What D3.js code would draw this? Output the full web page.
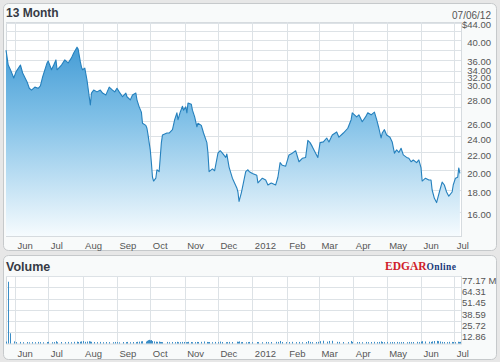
<!DOCTYPE html>
<html>
<head>
<meta charset="utf-8">
<script src="https://cdn.jsdelivr.net/npm/d3@7"></script>
<style>
  html, body { margin: 0; padding: 0; background: #e7e7e7; }
  svg { display: block; font-family: Arial, "Liberation Sans", sans-serif; }
</style>
</head>
<body>
<svg id="chart" width="500" height="362"></svg>
<script>
// sample dates (roughly every 2-3 days)
const dates = [
  "2011-05-24","2011-05-26","2011-05-28","2011-05-31","2011-06-02","2011-06-06","2011-06-08","2011-06-12","2011-06-14","2011-06-16",
  "2011-06-19","2011-06-22","2011-06-24","2011-06-26","2011-06-30","2011-07-01","2011-07-04","2011-07-06","2011-07-08","2011-07-09",
  "2011-07-13","2011-07-16","2011-07-19","2011-07-22","2011-07-24","2011-07-27","2011-07-28","2011-07-30","2011-07-31","2011-08-01",
  "2011-08-03","2011-08-05","2011-08-07","2011-08-08","2011-08-09","2011-08-11","2011-08-14","2011-08-17","2011-08-19","2011-08-22",
  "2011-08-25","2011-08-28","2011-08-30","2011-09-01","2011-09-03","2011-09-06","2011-09-09","2011-09-10","2011-09-13","2011-09-15",
  "2011-09-18","2011-09-19","2011-09-21","2011-09-23","2011-09-24","2011-09-27","2011-09-28","2011-09-29","2011-09-30","2011-10-01",
  "2011-10-02","2011-10-03","2011-10-04","2011-10-06","2011-10-07","2011-10-09","2011-10-10","2011-10-11","2011-10-12","2011-10-16",
  "2011-10-18","2011-10-21","2011-10-23","2011-10-25","2011-10-26","2011-10-28","2011-10-30","2011-10-31","2011-11-02","2011-11-03",
  "2011-11-04","2011-11-07","2011-11-08","2011-11-10","2011-11-12","2011-11-13","2011-11-16","2011-11-18","2011-11-21","2011-11-22",
  "2011-11-23","2011-11-26","2011-11-28","2011-12-01","2011-12-03","2011-12-05","2011-12-08","2011-12-09","2011-12-11","2011-12-14",
  "2011-12-18","2011-12-19","2011-12-20","2011-12-22","2011-12-23","2011-12-26","2011-12-28","2011-12-29","2012-01-01","2012-01-05",
  "2012-01-06","2012-01-10","2012-01-13","2012-01-15","2012-01-18","2012-01-22","2012-01-24","2012-01-26","2012-01-28","2012-01-31",
  "2012-02-03","2012-02-06","2012-02-09","2012-02-12","2012-02-15","2012-02-18","2012-02-20","2012-02-22","2012-02-24","2012-02-27",
  "2012-02-29","2012-03-02","2012-03-05","2012-03-08","2012-03-10","2012-03-13","2012-03-17","2012-03-19","2012-03-23","2012-03-27",
  "2012-03-30","2012-03-31","2012-04-04","2012-04-06","2012-04-09","2012-04-12","2012-04-14","2012-04-17","2012-04-20","2012-04-22",
  "2012-04-24","2012-04-26","2012-04-27","2012-04-29","2012-05-01","2012-05-04","2012-05-06","2012-05-08","2012-05-10","2012-05-12",
  "2012-05-14","2012-05-16","2012-05-19","2012-05-21","2012-05-23","2012-05-25","2012-05-28","2012-05-30","2012-06-01","2012-06-02",
  "2012-06-05","2012-06-08","2012-06-10","2012-06-11","2012-06-13","2012-06-15","2012-06-16","2012-06-18","2012-06-20","2012-06-22",
  "2012-06-24","2012-06-26","2012-06-29","2012-06-30","2012-07-02","2012-07-04","2012-07-05","2012-07-06"
];

// closing price, $
const closes = [
  37.97, 35.05, 34.17, 32.70, 33.78, 35.05, 33.58, 32.02, 30.95, 30.65,
  31.14, 30.95, 31.34, 32.90, 35.44, 35.83, 34.17, 35.05, 36.02, 34.17,
  35.05, 36.02, 35.44, 36.41, 37.39, 38.56, 38.17, 35.63, 34.66, 34.17,
  34.46, 32.31, 29.58, 28.31, 30.16, 30.65, 30.36, 30.65, 30.16, 29.87,
  31.14, 30.65, 30.36, 30.95, 30.36, 29.58, 30.16, 29.58, 29.09, 29.87,
  30.16, 29.09, 28.02, 27.24, 25.67, 25.38, 24.99, 24.11, 23.14, 22.26,
  20.79, 19.23, 18.84, 19.13, 20.01, 19.82, 21.38, 23.14, 24.11, 24.36,
  24.36, 24.80, 26.16, 27.14, 26.16, 27.24, 28.11, 27.53, 28.02, 27.14,
  28.60, 28.41, 27.53, 26.55, 25.19, 25.67, 25.38, 24.36, 23.14, 21.87,
  19.82, 20.11, 19.91, 21.87, 22.16, 21.87, 21.38, 21.77, 20.30, 19.13,
  18.16, 17.77, 16.89, 17.67, 18.16, 19.82, 20.01, 19.82, 19.62, 19.43,
  18.65, 19.13, 18.94, 18.45, 18.65, 18.45, 19.23, 20.79, 20.50, 20.40,
  21.67, 21.87, 22.16, 20.89, 21.28, 21.38, 23.43, 23.14, 22.65, 21.87,
  21.38, 23.14, 23.23, 23.72, 23.23, 24.11, 24.50, 23.82, 24.36, 24.99,
  26.16, 27.14, 26.55, 26.85, 25.87, 26.55, 27.14, 26.85, 27.24, 26.16,
  24.99, 23.72, 24.36, 24.80, 24.11, 23.82, 23.23, 21.87, 22.26, 21.96,
  22.45, 21.67, 21.38, 21.28, 20.89, 21.09, 20.79, 21.09, 20.21, 18.84,
  19.13, 18.94, 18.94, 17.96, 17.18, 16.79, 17.18, 17.96, 18.74, 18.45,
  17.77, 17.38, 17.77, 18.45, 19.13, 19.23, 20.21, 19.62
];

// volume, millions of shares
const volumes = [
  2.2, 70.6, 11.7, 2.4, 1.6, 1.8, 1.5, 1.7, 1.4, 1.6,
  1.5, 1.8, 1.6, 1.4, 1.7, 1.9, 1.5, 1.6, 2.6, 1.5,
  1.7, 1.6, 1.8, 1.5, 1.9, 2.1, 1.7, 2.0, 2.4, 2.8,
  1.9, 2.2, 2.6, 2.3, 1.9, 1.7, 1.6, 1.8, 1.5, 1.7,
  1.6, 1.5, 1.8, 1.6, 1.4, 1.7, 1.6, 1.8, 1.5, 1.7,
  1.6, 1.9, 2.1, 2.4, 2.6, 2.2, 3.1, 3.8, 4.2, 3.6,
  3.9, 2.8, 2.4, 2.1, 1.9, 2.2, 1.8, 1.7, 1.6, 1.8,
  1.5, 1.7, 1.6, 1.9, 1.5, 1.6, 1.8, 1.7, 1.5, 1.6,
  1.9, 1.7, 1.5, 1.6, 1.8, 1.7, 1.9, 2.3, 1.8, 1.6,
  1.7, 1.5, 1.8, 1.6, 2.2, 1.7, 1.5, 1.6, 1.8, 1.7,
  2.1, 1.9, 2.4, 1.5, 1.7, 1.4, 1.6, 1.8, 1.5, 1.7,
  1.6, 1.5, 1.8, 1.6, 1.7, 1.9, 1.8, 2.9, 1.7, 1.6,
  1.7, 1.9, 1.6, 1.8, 1.5, 1.7, 2.8, 1.8, 1.6, 1.7,
  1.9, 2.7, 3.2, 2.1, 2.9, 3.1, 1.9, 1.8, 1.7, 1.6,
  2.9, 1.8, 1.6, 1.7, 1.5, 1.8, 1.6, 1.7, 1.9, 1.6,
  1.8, 2.4, 1.7, 1.6, 1.8, 1.5, 1.7, 1.6, 1.8, 1.5,
  1.6, 1.7, 1.5, 1.8, 1.6, 1.7, 1.9, 1.6, 2.2, 2.6,
  2.3, 2.0, 1.8, 2.4, 2.8, 3.0, 2.7, 2.3, 1.8, 1.7,
  1.6, 1.9, 1.8, 1.7, 1.6, 2.0, 1.8, 1.9
];

const priceGrid = [16, 18, 20, 22, 24, 26, 28, 30, 32, 34, 36, 38, 40, 42, 44];
const priceLabels = [44, 40, 36, 34, 32, 30, 28, 26, 24, 22, 20, 18, 16];
// the original squeezes a few labels upward
const labelNudge = { 44: -1, 40: -1.5, 36: -1.5, 34: -4, 32: -7.5, 30: -11.5, 28: -9.5 };
const volMax = 77.17;
const volSteps = 6;
const asOf = "07/06/12";
const startDate = "2011-05-24", endDate = "2012-07-07";

const svg = d3.select("#chart");
const parse = d3.timeParse("%Y-%m-%d");
const pts = dates.map((d, i) => ({ date: parse(d), close: closes[i], vol: volumes[i] }));

const P = { left: 6, right: 461, top: 22, bottom: 236 };
const V = { top: 276, bottom: 343.5 };

const x = d3.scaleTime().domain([parse(startDate), parse(endDate)]).range([P.left, P.right]);
const y = d3.scaleLog().domain([16, 44]).range([211.6, 22.5]);
const yv = d3.scaleLinear().domain([0, volMax]).range([V.bottom, V.top]);

const monthStarts = d3.timeMonth.range(d3.timeMonth.ceil(x.domain()[0]), x.domain()[1]);
const monthFmt = (d) => d.getMonth() === 0 ? d3.timeFormat("%Y")(d) : d3.timeFormat("%b")(d);

const defs = svg.append("defs");
const grad = defs.append("linearGradient")
  .attr("id", "areaFill")
  .attr("gradientUnits", "userSpaceOnUse")
  .attr("x1", 0).attr("x2", 0).attr("y1", P.top).attr("y2", P.bottom);
grad.append("stop").attr("offset", 0).attr("stop-color", "#3191d0");
grad.append("stop").attr("offset", 0.45).attr("stop-color", "#80c0e7");
grad.append("stop").attr("offset", 1).attr("stop-color", "#f6fbfe");

// panels
svg.append("rect").attr("x", 3.5).attr("y", 3.5).attr("width", 493).attr("height", 247)
  .attr("rx", 5).attr("fill", "#f8fafa").attr("stroke", "#c6c9cb");
svg.append("rect").attr("x", 3.5).attr("y", 255.5).attr("width", 493).attr("height", 104)
  .attr("rx", 5).attr("fill", "#f8fafa").attr("stroke", "#c6c9cb");

// plot backgrounds
svg.append("rect").attr("x", P.left + 0.5).attr("y", P.top + 0.5)
  .attr("width", P.right - P.left).attr("height", P.bottom - P.top)
  .attr("fill", "#fff").attr("stroke", "#d6dbdf");
svg.append("rect").attr("x", P.left + 0.5).attr("y", V.top + 0.5)
  .attr("width", P.right - P.left).attr("height", V.bottom - V.top)
  .attr("fill", "#fff").attr("stroke", "#d6dbdf");

const gridColor = "#dde2e6";
const crisp = (v) => Math.round(v) + 0.5;

// price grid
const g1 = svg.append("g");
g1.selectAll("line.h").data(priceGrid).join("line")
  .attr("x1", P.left).attr("x2", P.right)
  .attr("y1", (d) => crisp(y(d))).attr("y2", (d) => crisp(y(d)))
  .attr("stroke", gridColor);
g1.selectAll("line.v").data(monthStarts).join("line")
  .attr("x1", (d) => crisp(x(d))).attr("x2", (d) => crisp(x(d)))
  .attr("y1", P.top).attr("y2", P.bottom)
  .attr("stroke", gridColor);

// area + line
const area = d3.area().x((d) => x(d.date)).y0(P.bottom).y1((d) => y(d.close));
const line = d3.line().x((d) => x(d.date)).y((d) => y(d.close));
g1.append("path").datum(pts).attr("d", area).attr("fill", "url(#areaFill)");
g1.append("path").datum(pts).attr("d", line)
  .attr("fill", "none").attr("stroke", "#2580bd").attr("stroke-width", 1.1)
  .attr("stroke-linejoin", "round");

// price labels
svg.append("g").selectAll("text").data(priceLabels).join("text")
  .attr("x", 491).attr("y", (d) => y(d) + 3.5 + (labelNudge[d] || 0))
  .attr("dy", "0.35em")
  .attr("text-anchor", "end").attr("font-size", "9.5px").attr("fill", "#555")
  .text((d, i) => (i === 0 ? "$" : "") + d.toFixed(2));

// month labels (both panels)
[248.5, 357].forEach((by) => {
  svg.append("g").selectAll("text").data(monthStarts).join("text")
    .attr("x", (d) => x(d) + 2.5).attr("y", by)
    .attr("font-size", "9.5px").attr("fill", "#555")
    .text(monthFmt);
});

// titles
svg.append("text").attr("x", 6).attr("y", 17).attr("font-size", "12px").attr("font-weight", "bold")
  .attr("fill", "#363a45").text("13 Month");
svg.append("text").attr("x", 491).attr("y", 18.5).attr("text-anchor", "end")
  .attr("font-size", "10px").attr("fill", "#555").text(asOf);
svg.append("text").attr("x", 6).attr("y", 271).attr("font-size", "12.5px").attr("font-weight", "bold")
  .attr("fill", "#363a45").text("Volume");

// EDGAR Online logo
const logo = svg.append("text").attr("x", 385).attr("y", 269.5)
  .attr("font-family", "'Liberation Serif', 'DejaVu Serif', serif").attr("font-weight", "bold");
logo.append("tspan").attr("font-size", "11.5px").attr("fill", "#d0202a").text("EDGAR");
logo.append("tspan").attr("font-size", "9.5px").attr("fill", "#1b3b7a").attr("letter-spacing", "0.4px").text("Online");

// volume grid
const volTicks = d3.range(1, volSteps + 1).map((i) => volMax * i / volSteps);
const g2 = svg.append("g");
g2.selectAll("line.h").data(volTicks).join("line")
  .attr("x1", P.left).attr("x2", P.right)
  .attr("y1", (d) => crisp(yv(d))).attr("y2", (d) => crisp(yv(d)))
  .attr("stroke", gridColor);
g2.selectAll("line.v").data(monthStarts).join("line")
  .attr("x1", (d) => crisp(x(d))).attr("x2", (d) => crisp(x(d)))
  .attr("y1", V.top).attr("y2", V.bottom)
  .attr("stroke", gridColor);

// volume bars
g2.selectAll("rect").data(pts).join("rect")
  .attr("x", (d) => Math.round(x(d.date)))
  .attr("width", 1)
  .attr("y", (d) => yv(d.vol))
  .attr("height", (d) => yv(0) - yv(d.vol))
  .attr("fill", "#3a8dc6");

// volume labels
svg.append("g").selectAll("text").data(volTicks.slice().reverse()).join("text")
  .attr("x", 462).attr("y", (d) => yv(d) + 4.5).attr("dy", "0.35em")
  .attr("font-size", "9.5px").attr("fill", "#555")
  .text((d, i) => d.toFixed(2) + (i === 0 ? " M" : ""));
</script>
</body>
</html>
